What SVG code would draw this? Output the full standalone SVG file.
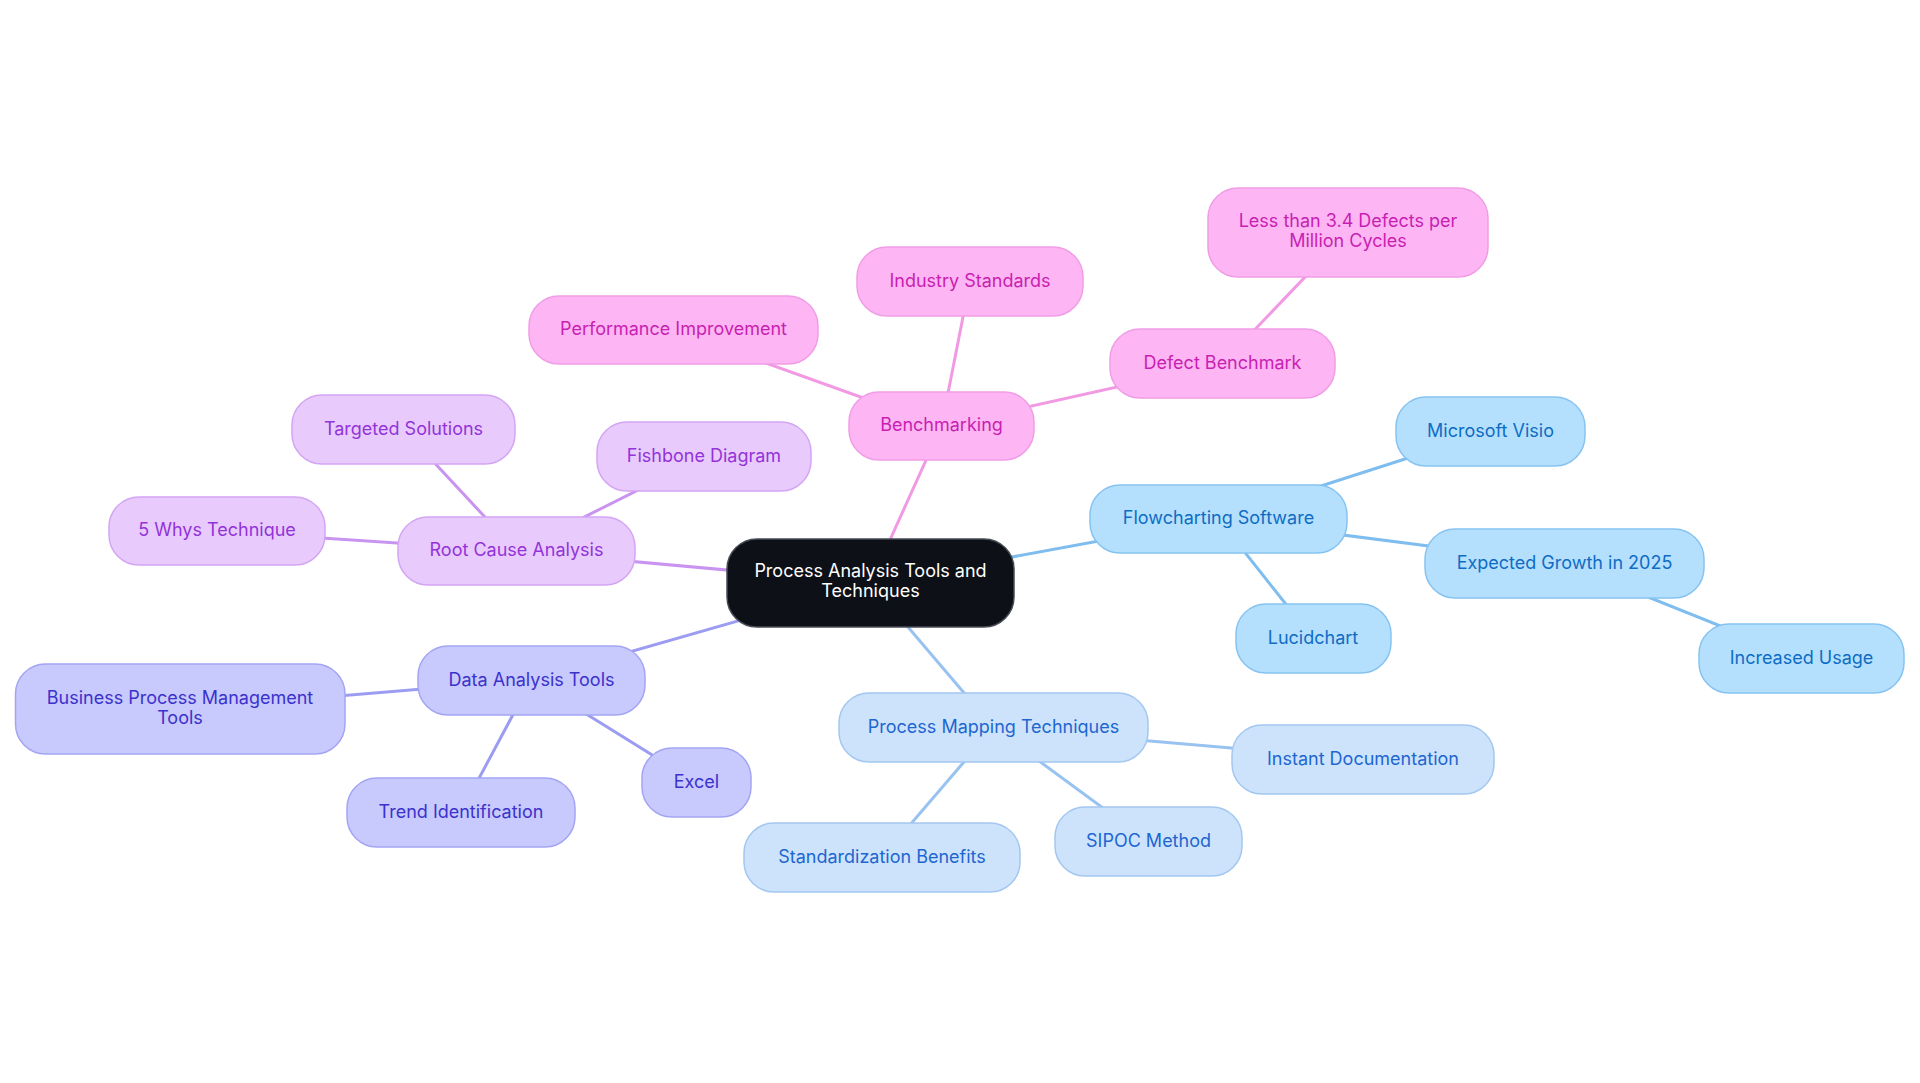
<svg xmlns="http://www.w3.org/2000/svg" width="1920" height="1083" viewBox="0 0 1920 1083">
<style>
text{font-family:Inter,"Noto Sans","Liberation Sans",sans-serif;font-size:18px;text-anchor:middle;dominant-baseline:central;transform:translate(0px,-1.5px)}
.e{stroke-width:3;fill:none;stroke-linecap:round}
.c rect{fill:#0d1117;stroke:#474c55;stroke-width:1.5}
.c text{fill:#ffffff}
.pk rect{fill:#fdb5f3;stroke:#f09de6;stroke-width:1.5}
.pk text{fill:#c81fb2}
.pu rect{fill:#e8cbfc;stroke:#d3a5f3;stroke-width:1.5}
.pu text{fill:#9333d9}
.in rect{fill:#c8c9fd;stroke:#a3a5f3;stroke-width:1.5}
.in text{fill:#3b32cc}
.lb rect{fill:#cde3fb;stroke:#a3c7f0;stroke-width:1.5}
.lb text{fill:#1e66d0}
.sk rect{fill:#b4e0fd;stroke:#86c3f1;stroke-width:1.5}
.sk text{fill:#0f6cc4}
</style>
<rect width="1920" height="1083" fill="#ffffff"/>
<g id="connectors">
<line class="e" stroke="#f19ae3" x1="870.5" y1="583" x2="941.5" y2="426"/>
<line class="e" stroke="#c994f0" x1="870.5" y1="583" x2="516.5" y2="551"/>
<line class="e" stroke="#9c9df2" x1="870.5" y1="583" x2="531.5" y2="680"/>
<line class="e" stroke="#98c3f0" x1="870.5" y1="583" x2="993.5" y2="727.5"/>
<line class="e" stroke="#7fbdef" x1="870.5" y1="583" x2="1218.5" y2="519"/>
<line class="e" stroke="#f19ae3" x1="941.5" y1="426" x2="673.5" y2="330"/>
<line class="e" stroke="#f19ae3" x1="941.5" y1="426" x2="970" y2="281.5"/>
<line class="e" stroke="#f19ae3" x1="941.5" y1="426" x2="1222.5" y2="363.5"/>
<line class="e" stroke="#f19ae3" x1="1222.5" y1="363.5" x2="1348" y2="232"/>
<line class="e" stroke="#c994f0" x1="516.5" y1="551" x2="403.5" y2="429.5"/>
<line class="e" stroke="#c994f0" x1="516.5" y1="551" x2="704" y2="457"/>
<line class="e" stroke="#c994f0" x1="516.5" y1="551" x2="217" y2="531"/>
<line class="e" stroke="#9c9df2" x1="531.5" y1="680" x2="180" y2="709"/>
<line class="e" stroke="#9c9df2" x1="531.5" y1="680" x2="461" y2="812"/>
<line class="e" stroke="#9c9df2" x1="531.5" y1="680" x2="696.5" y2="782.5"/>
<line class="e" stroke="#98c3f0" x1="993.5" y1="727.5" x2="1363" y2="759.5"/>
<line class="e" stroke="#98c3f0" x1="993.5" y1="727.5" x2="1148.5" y2="841.5"/>
<line class="e" stroke="#98c3f0" x1="993.5" y1="727.5" x2="882" y2="857.5"/>
<line class="e" stroke="#7fbdef" x1="1218.5" y1="519" x2="1490.5" y2="431.5"/>
<line class="e" stroke="#7fbdef" x1="1218.5" y1="519" x2="1564.5" y2="563.5"/>
<line class="e" stroke="#7fbdef" x1="1218.5" y1="519" x2="1313" y2="638.5"/>
<line class="e" stroke="#7fbdef" x1="1564.5" y1="563.5" x2="1801.5" y2="658.5"/>
</g>
<g id="central" class="c"><rect x="727" y="539" width="287" height="88" rx="30"/><text x="870.5" y="572">Process Analysis Tools and</text><text x="870.5" y="592">Techniques</text></g>
<g id="benchmarking" class="pk"><rect x="849" y="392" width="185" height="68" rx="30"/><text x="941.5" y="426">Benchmarking</text></g>
<g id="performance-improvement" class="pk"><rect x="529" y="296" width="289" height="68" rx="30"/><text x="673.5" y="330">Performance Improvement</text></g>
<g id="industry-standards" class="pk"><rect x="857" y="247" width="226" height="69" rx="30"/><text x="970" y="281.5">Industry Standards</text></g>
<g id="defect-benchmark" class="pk"><rect x="1110" y="329" width="225" height="69" rx="30"/><text x="1222.5" y="363.5">Defect Benchmark</text></g>
<g id="less-than" class="pk"><rect x="1208" y="188" width="280" height="89" rx="30"/><text x="1348" y="222">Less than 3.4 Defects per</text><text x="1348" y="242">Million Cycles</text></g>
<g id="root-cause" class="pu"><rect x="398" y="517" width="237" height="68" rx="30"/><text x="516.5" y="551">Root Cause Analysis</text></g>
<g id="targeted-solutions" class="pu"><rect x="292" y="395" width="223" height="69" rx="30"/><text x="403.5" y="429.5">Targeted Solutions</text></g>
<g id="fishbone" class="pu"><rect x="597" y="422" width="214" height="69" rx="30"/><text x="704" y="457">Fishbone Diagram</text></g>
<g id="five-whys" class="pu"><rect x="109" y="497" width="216" height="68" rx="30"/><text x="217" y="531">5 Whys Technique</text></g>
<g id="data-analysis" class="in"><rect x="418" y="646" width="227" height="69" rx="30"/><text x="531.5" y="680.5">Data Analysis Tools</text></g>
<g id="bpm-tools" class="in"><rect x="15.5" y="664" width="329.5" height="90" rx="30"/><text x="180" y="699">Business Process Management</text><text x="180" y="719">Tools</text></g>
<g id="trend-identification" class="in"><rect x="347" y="778" width="228" height="69" rx="30"/><text x="461" y="812.5">Trend Identification</text></g>
<g id="excel" class="in"><rect x="642" y="748" width="109" height="69" rx="30"/><text x="696.5" y="782.5">Excel</text></g>
<g id="process-mapping" class="lb"><rect x="839" y="693" width="309" height="69" rx="30"/><text x="993.5" y="727.5">Process Mapping Techniques</text></g>
<g id="instant-documentation" class="lb"><rect x="1232" y="725" width="262" height="69" rx="30"/><text x="1363" y="759.5">Instant Documentation</text></g>
<g id="sipoc" class="lb"><rect x="1055" y="807" width="187" height="69" rx="30"/><text x="1148.5" y="841.5">SIPOC Method</text></g>
<g id="standardization" class="lb"><rect x="744" y="823" width="276" height="69" rx="30"/><text x="882" y="857.5">Standardization Benefits</text></g>
<g id="flowcharting" class="sk"><rect x="1090" y="485" width="257" height="68" rx="30"/><text x="1218.5" y="519">Flowcharting Software</text></g>
<g id="microsoft-visio" class="sk"><rect x="1396" y="397" width="189" height="69" rx="30"/><text x="1490.5" y="431.5">Microsoft Visio</text></g>
<g id="expected-growth" class="sk"><rect x="1425" y="529" width="279" height="69" rx="30"/><text x="1564.5" y="563.5">Expected Growth in 2025</text></g>
<g id="lucidchart" class="sk"><rect x="1236" y="604" width="155" height="69" rx="30"/><text x="1313" y="638.5">Lucidchart</text></g>
<g id="increased-usage" class="sk"><rect x="1699" y="624" width="205" height="69" rx="30"/><text x="1801.5" y="658.5">Increased Usage</text></g>
</svg>
